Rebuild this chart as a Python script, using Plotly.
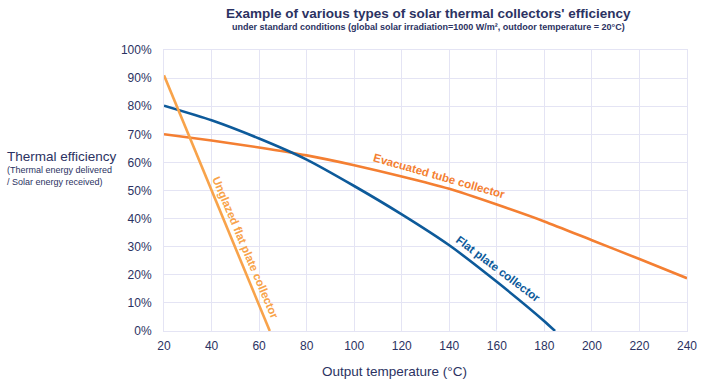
import plotly.graph_objects as go

# Data
temp_flat = [20, 40, 60, 80, 100, 120, 140, 160, 180, 184.5]
eff_flat = [80.2, 75.0, 68.5, 61.0, 51.6, 41.5, 30.5, 17.5, 3.5, 0.0]

temp_evac = [20, 40, 60, 80, 100, 120, 140, 160, 180, 200, 220, 240]
eff_evac = [70.0, 67.8, 65.3, 62.5, 59.0, 55.0, 50.6, 45.0, 39.0, 32.3, 25.6, 18.8]

temp_unglazed = [20, 64.5]
eff_unglazed = [91.0, 0.0]

x_ticks = [20, 40, 60, 80, 100, 120, 140, 160, 180, 200, 220, 240]
y_ticks = [0, 10, 20, 30, 40, 50, 60, 70, 80, 90, 100]

NAVY = "#2B3262"
BLUE = "#0D5A9A"
ORANGE = "#F47F32"
LIGHT_ORANGE = "#F8A34A"
GRID = "#E4E4F4"
FONT = "Liberation Sans, Arial, sans-serif"

W, H = 710, 386
L, T, R, B = 164, 50, 23, 55

fig = go.Figure()
fig.add_trace(go.Scatter(x=temp_evac, y=eff_evac, mode="lines",
                         line=dict(color=ORANGE, width=2.6, shape="spline", smoothing=0.6),
                         hoverinfo="skip"))
fig.add_trace(go.Scatter(x=temp_flat, y=eff_flat, mode="lines",
                         line=dict(color=BLUE, width=2.6, shape="spline", smoothing=0.6),
                         hoverinfo="skip"))
fig.add_trace(go.Scatter(x=temp_unglazed, y=eff_unglazed, mode="lines",
                         line=dict(color=LIGHT_ORANGE, width=2.6),
                         hoverinfo="skip"))

pw = W - L - R
ph = H - T - B

def px(xpix):
    return (xpix - L) / pw

def py(ypix):
    return 1 - (ypix - T) / ph

annotations = [
    dict(text="<b>Example of various types of solar thermal collectors' efficiency</b>",
         xref="paper", yref="paper", x=px(428), y=py(13), showarrow=False,
         font=dict(size=13.5, color=NAVY, family=FONT), xanchor="center", yanchor="middle"),
    dict(text="<b>under standard conditions (global solar irradiation=1000 W/m², outdoor temperature = 20°C)</b>",
         xref="paper", yref="paper", x=px(428), y=py(26.5), showarrow=False,
         font=dict(size=9, color=NAVY, family=FONT), xanchor="center", yanchor="middle"),
    dict(text="Thermal efficiency", xref="paper", yref="paper", x=px(5), y=py(156),
         showarrow=False, xanchor="left", yanchor="middle",
         font=dict(size=13.5, color=NAVY, family=FONT)),
    dict(text="(Thermal energy delivered<br>/ Solar energy received)", xref="paper", yref="paper",
         x=px(5), y=py(175.5), showarrow=False, xanchor="left", yanchor="middle", align="left",
         font=dict(size=9, color=NAVY, family=FONT)),
    dict(text="Output temperature (°C)", xref="paper", yref="paper", x=px(394), y=py(371),
         showarrow=False, xanchor="center", yanchor="middle",
         font=dict(size=13.5, color=NAVY, family=FONT)),
    dict(text="<b>Unglazed flat plate collector</b>", x=54.1, y=29.8, showarrow=False,
         textangle=67, font=dict(size=11.5, color=LIGHT_ORANGE, family=FONT)),
    dict(text="<b>Evacuated tube collector</b>", x=135.8, y=55.2, showarrow=False,
         textangle=16, font=dict(size=11.5, color=ORANGE, family=FONT)),
    dict(text="<b>Flat plate collector</b>", x=160.6, y=22.0, showarrow=False,
         textangle=37, font=dict(size=11.5, color=BLUE, family=FONT)),
]

fig.update_layout(
    width=W, height=H,
    margin=dict(l=L, r=R, t=T, b=B),
    paper_bgcolor="white", plot_bgcolor="white",
    showlegend=False,
    hovermode=False,
    font=dict(family=FONT, color=NAVY),
    annotations=annotations,
    xaxis=dict(range=[20, 240], tickvals=x_ticks, ticktext=[str(v) for v in x_ticks],
               showgrid=True, gridcolor=GRID, gridwidth=1, zeroline=False,
               showline=True, linecolor=GRID, mirror=True,
               tickfont=dict(size=12, color=NAVY), ticks="", ticklabelstandoff=4),
    yaxis=dict(range=[0, 100], tickvals=y_ticks, ticktext=[f"{v}%" for v in y_ticks],
               showgrid=True, gridcolor=GRID, gridwidth=1, zeroline=False,
               showline=True, linecolor=GRID, mirror=True,
               tickfont=dict(size=12, color=NAVY), ticks="", ticklabelstandoff=9),
)

fig.write_html("out.html",
               config={"displayModeBar": False},
               post_script="document.body.style.margin='0';document.body.style.overflow='hidden';")
